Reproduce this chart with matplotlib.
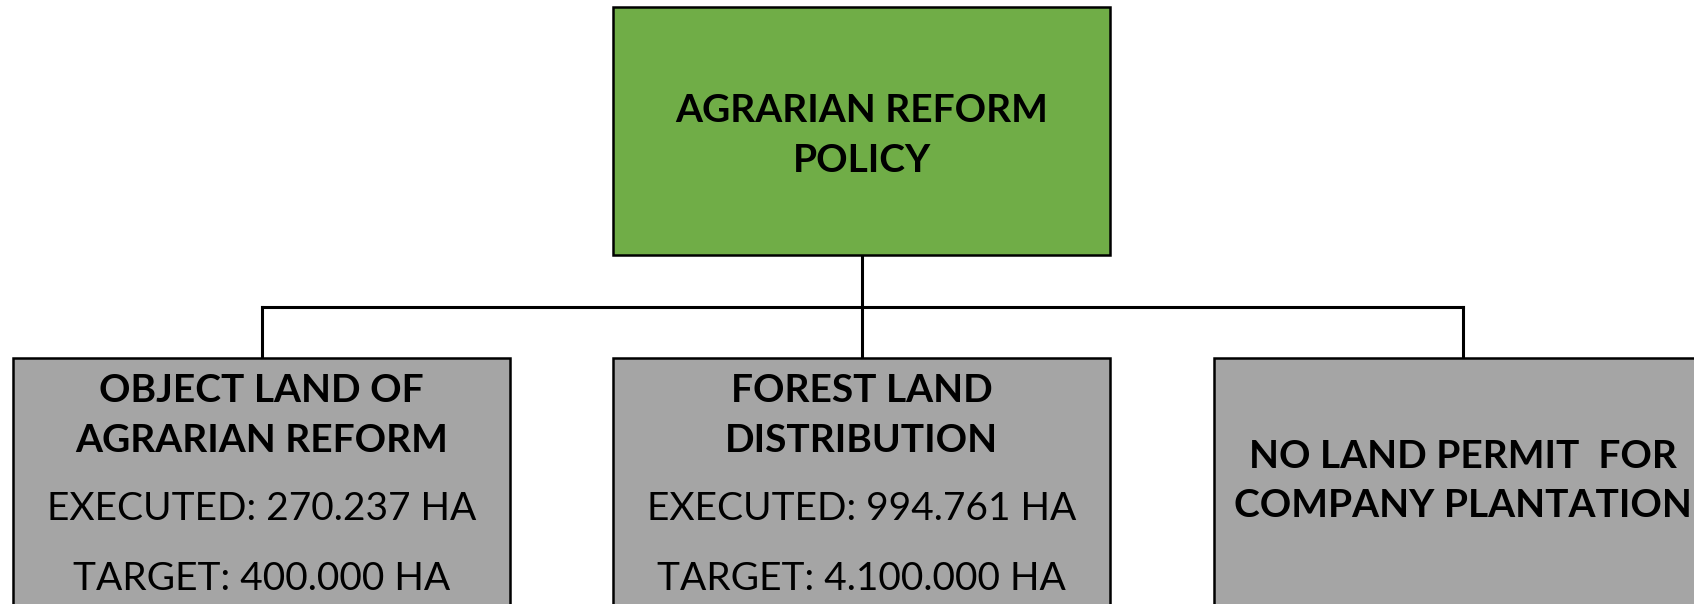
import matplotlib
matplotlib.use('Agg')
import matplotlib.pyplot as plt
from matplotlib.patches import Rectangle

# chart content
root_label = ['AGRARIAN REFORM', 'POLICY']
child_titles = [
    ['OBJECT LAND OF', 'AGRARIAN REFORM'],
    ['FOREST LAND', 'DISTRIBUTION'],
    ['NO LAND PERMIT  FOR', 'COMPANY PLANTATION'],
]
child_lines = [
    ['EXECUTED: 270.237 HA', 'TARGET: 400.000 HA'],
    ['EXECUTED: 994.761 HA', 'TARGET: 4.100.000 HA'],
    [],
]

GREEN = '#70AD47'
GRAY = '#A5A5A5'
FONT = 'Lato'
FS = 28

W, H = 1694, 604
fig = plt.figure(figsize=(W / 100, H / 100), dpi=100)
ax = fig.add_axes([0, 0, 1, 1])
ax.set_xlim(0, W)
ax.set_ylim(H, 0)
ax.axis('off')

box_w = 497
root_x, root_y, root_h = 613, 7, 248
child_x = [13, 613, 1214]
child_y = 358
bus_y = 307

# root box
ax.add_patch(Rectangle((root_x, root_y), box_w, root_h, facecolor=GREEN,
                       edgecolor='black', linewidth=1.8, zorder=2))
for txt, yb in zip(root_label, [122, 172]):
    ax.text(root_x + box_w / 2, yb, txt, ha='center', va='baseline',
            fontsize=FS, fontweight='bold', family=FONT, zorder=3)

# connectors
cx_root = root_x + box_w / 2
centers = [x + box_w / 2 for x in child_x]
ax.plot([cx_root, cx_root], [root_y + root_h, bus_y], color='black', lw=2.2, zorder=1)
ax.plot([centers[0], centers[-1]], [bus_y, bus_y], color='black', lw=2.2, zorder=1)
for c in centers:
    ax.plot([c, c], [bus_y, child_y], color='black', lw=2.2, zorder=1)

# child boxes
for i, x in enumerate(child_x):
    ax.add_patch(Rectangle((x, child_y), box_w, 400, facecolor=GRAY,
                           edgecolor='black', linewidth=1.8, zorder=2))
    if child_lines[i]:
        ybase = [401.7, 451.7]
    else:
        ybase = [468.5, 517]
    for txt, yb in zip(child_titles[i], ybase):
        ax.text(x + box_w / 2, yb, txt, ha='center', va='baseline',
                fontsize=FS, fontweight='bold', family=FONT, zorder=3)
    for txt, yb in zip(child_lines[i], [520, 590]):
        ax.text(x + box_w / 2, yb, txt, ha='center', va='baseline',
                fontsize=FS, family=FONT, zorder=3)

fig.savefig('out.png', dpi=100)
